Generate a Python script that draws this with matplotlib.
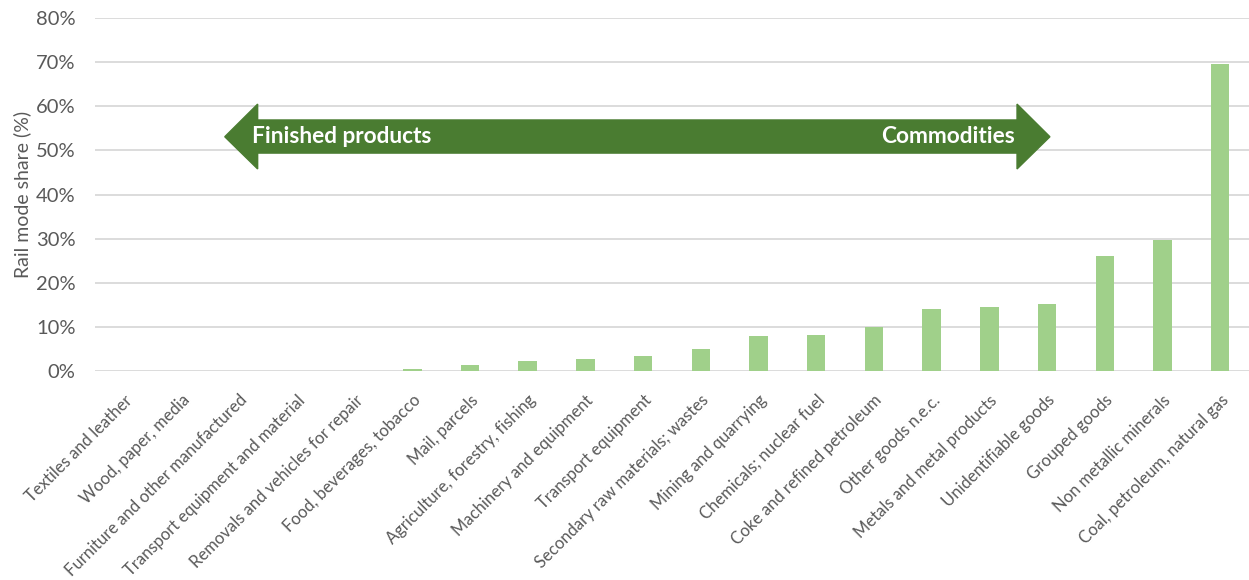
import matplotlib.pyplot as plt
from matplotlib.patches import Polygon
from matplotlib.ticker import FuncFormatter

plt.rcParams['font.family'] = ['Lato', 'DejaVu Sans']

categories = [
    "Textiles and leather", "Wood, paper, media", "Furniture and other manufactured",
    "Transport equipment and material", "Removals and vehicles for repair",
    "Food, beverages, tobacco", "Mail, parcels", "Agriculture, forestry, fishing",
    "Machinery and equipment", "Transport equipment", "Secondary raw materials; wastes",
    "Mining and quarrying", "Chemicals; nuclear fuel", "Coke and refined petroleum",
    "Other goods n.e.c.", "Metals and metal products", "Unidentifiable goods",
    "Grouped goods", "Non metallic minerals", "Coal, petroleum, natural gas",
]
rail_share = [0, 0, 0, 0, 0, 0.4, 1.3, 2.2, 2.7, 3.5, 5.1, 8.0, 8.3, 9.9,
              14.2, 14.5, 15.2, 26.1, 29.8, 69.5]
y_ticks = [0, 10, 20, 30, 40, 50, 60, 70, 80]

bar_color = '#a0d08a'
arrow_color = '#4a7c31'
text_gray = '#595959'

fig = plt.figure(figsize=(12.49, 5.80), dpi=100)
ax = fig.add_axes([0.076, 0.36, 0.924, 0.609])

x = range(len(categories))
ax.bar(x, rail_share, width=0.32, color=bar_color, zorder=3)

ax.set_xlim(-0.5, len(categories) - 0.5)
ax.set_ylim(0, 80)
ax.set_yticks(y_ticks)
ax.yaxis.set_major_formatter(FuncFormatter(lambda v, p: f"{v:.0f}%"))
ax.grid(axis='y', color='#d9d9d9', linewidth=1.3, zorder=0)
ax.set_axisbelow(True)
for s in ax.spines.values():
    s.set_visible(False)
ax.tick_params(axis='y', length=0, labelsize=14.5, colors=text_gray, pad=14)
ax.set_xticks(list(x))
ax.set_xticklabels(categories, rotation=45, ha='right', rotation_mode='anchor',
                   fontsize=12)
ax.tick_params(axis='x', length=0, colors=text_gray, pad=15)
ax.set_ylabel("Rail mode share (%)", fontsize=14, color=text_gray)
ax.yaxis.set_label_coords(-0.055, 0.5)

# double headed arrow: finished products <-> commodities
xl_tip, xl_base, xr_base, xr_tip = 1.75, 2.32, 15.48, 16.05
y_mid, sh_lo, sh_hi, hd_lo, hd_hi = 53.1, 49.4, 56.9, 45.8, 60.5
arrow = Polygon([
    (xl_tip, y_mid), (xl_base, hd_hi), (xl_base, sh_hi), (xr_base, sh_hi),
    (xr_base, hd_hi), (xr_tip, y_mid), (xr_base, hd_lo), (xr_base, sh_lo),
    (xl_base, sh_lo), (xl_base, hd_lo),
], closed=True, color=arrow_color, zorder=4, clip_on=False)
ax.add_patch(arrow)
ax.text(2.22, y_mid, "Finished products", color='white', fontsize=16.3,
        fontweight='bold', ha='left', va='center', zorder=5)
ax.text(15.44, y_mid, "Commodities", color='white', fontsize=16.3,
        fontweight='bold', ha='right', va='center', zorder=5)

fig.savefig("out.png", dpi=100)
